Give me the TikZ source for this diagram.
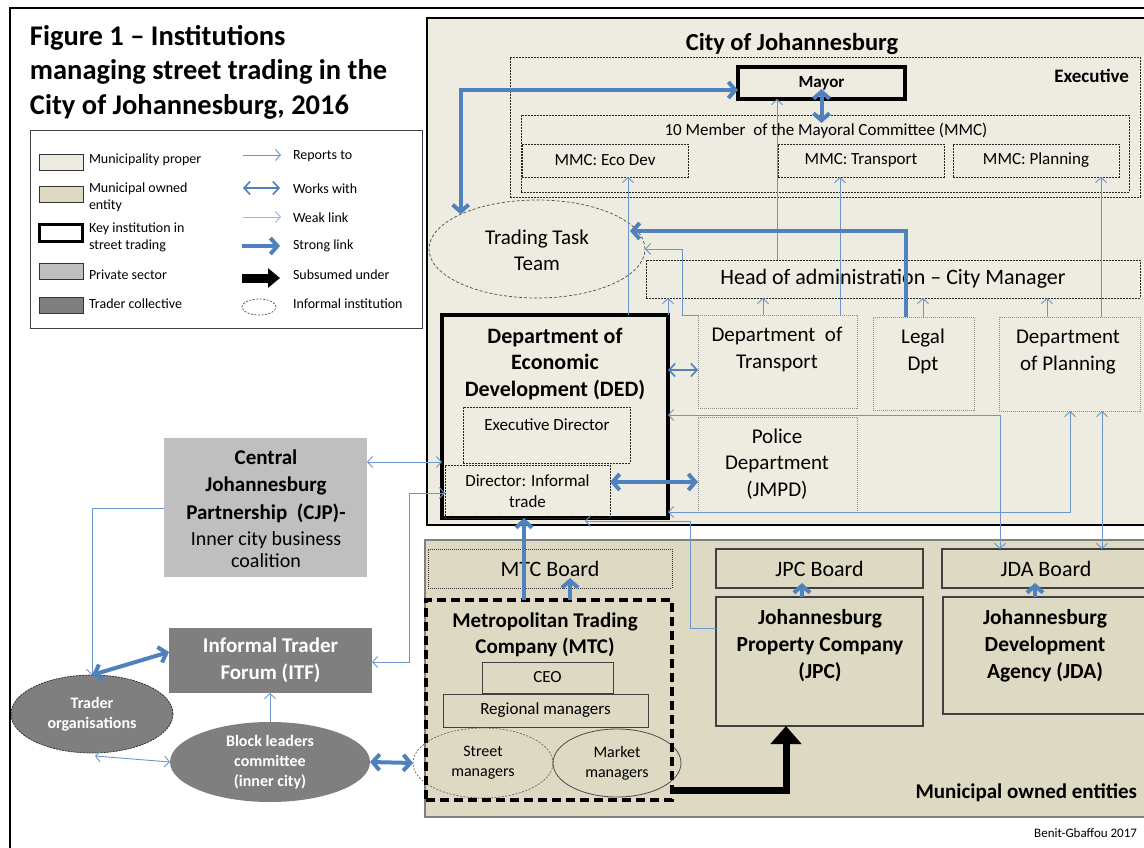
\documentclass[tikz,border=0pt]{standalone}
\usepackage{fontspec}
\setmainfont{Carlito}
\usetikzlibrary{arrows.meta,shapes.geometric,calc}
\definecolor{cityfill}{HTML}{EEECE1}
\definecolor{moefill}{HTML}{DDD9C3}
\definecolor{privfill}{HTML}{BFBFBF}
\definecolor{tradfill}{HTML}{7F7F7F}
\definecolor{lblue}{HTML}{4F81BD}
\definecolor{tblue}{HTML}{6C95CB}
\newcommand\myfs[2]{\fontsize{#1}{#2}\selectfont}
\begin{document}
\begin{tikzpicture}[x=1pt,y=-1pt,
  every node/.style={inner sep=0pt, outer sep=0pt},
  sz/.style 2 args={minimum width=#1pt, minimum height=#2pt},
  citybox/.style={draw=black, line width=1.3pt, fill=cityfill},
  dashbox/.style={draw=black!85, line width=0.6pt, dash pattern=on 2pt off 1pt},
  deptbox/.style={draw=black!45, line width=0.9pt, dash pattern=on 1pt off 1pt, fill=cityfill},
  keybox/.style={draw=black, line width=3.8pt, fill=cityfill},
  solidbox/.style={draw=black!75, line width=1.1pt, fill=moefill},
  dotbox/.style={draw=black!80, line width=0.6pt, dash pattern=on 1pt off 1pt, fill=moefill},
  thinarr/.style={draw=tblue, line width=0.9pt, -{Straight Barb[length=5pt,width=11pt]}},
  thinboth/.style={draw=tblue, line width=0.9pt, {Straight Barb[length=5pt,width=11pt]}-{Straight Barb[length=5pt,width=11pt]}},
  works/.style={draw=lblue, line width=1.6pt, {Straight Barb[length=6pt,width=13pt]}-{Straight Barb[length=6pt,width=13pt]}},
  strong/.style={draw=lblue, line width=4pt, -{Straight Barb[length=7pt,width=16pt]}},
  strongboth/.style={draw=lblue, line width=4pt, {Straight Barb[length=7pt,width=16pt]}-{Straight Barb[length=7pt,width=16pt]}},
  subsumed/.style={draw=black, line width=7pt, -{Triangle[length=18pt,width=30pt]}},
  ltext/.style={anchor=west, align=left, font=\myfs{14}{17}},
  wtext/.style={text=white, font=\bfseries\myfs{16}{20}, align=center}
]
\useasboundingbox (0,0) rectangle (1144,848);
\fill[white] (0,0) rectangle (1144,848);
% frame
\draw[line width=2pt] (10,848) -- (10,8) -- (1144,8);

% title
\node[anchor=west, align=left, font=\bfseries\myfs{28.5}{34.5}] (title) at (30,72) {Figure 1 – Institutions\\managing street trading in the\\City of Johannesburg, 2016};

% legend
\node[draw=black!75, line width=0.9pt, sz={392}{198}] (legend) at (226,229) {};
\node[draw=black!80, line width=0.8pt, fill=cityfill, sz={44}{16}] (sw1) at (61,162) {};
\node[draw=black!80, line width=0.8pt, fill=moefill, sz={44}{16}] (sw2) at (61,194) {};
\node[draw=black, line width=3.5pt, fill=white, sz={43}{17}] (sw3) at (61,233) {};
\node[draw=black!80, line width=0.8pt, fill=privfill, sz={44}{16}] (sw4) at (61,271) {};
\node[draw=black!80, line width=0.8pt, fill=tradfill, sz={44}{16}] (sw5) at (61,305) {};
\node[ltext] (lt1) at (89,160) {Municipality proper};
\node[ltext] (lt2) at (89,197) {Municipal owned\\entity};
\node[ltext] (lt3) at (89,237) {Key institution in\\street trading};
\node[ltext] (lt4) at (89,275) {Private sector};
\node[ltext] (lt5) at (89,304) {Trader collective};
\node[ltext] (lr1t) at (293,156) {Reports to};
\node[ltext] (lr2t) at (293,189) {Works with};
\node[ltext] (lr3t) at (293,218) {Weak link};
\node[ltext] (lr4t) at (293,246) {Strong link};
\node[ltext] (lr5t) at (293,275) {Subsumed under};
\node[ltext] (lr6t) at (293,304) {Informal institution};
\coordinate (la1) at (243,155); \coordinate (lb1) at (281,155);
\coordinate (la2) at (243,188); \coordinate (lb2) at (280,188);
\coordinate (la3) at (243,217); \coordinate (lb3) at (281,217);
\coordinate (la4) at (242,246); \coordinate (lb4) at (280,246);
\coordinate (la5) at (242,278); \coordinate (lb5) at (280,278);
\draw[thinarr] (la1) -- (lb1);
\draw[works] (la2) -- (lb2);
\draw[thinarr, draw=tblue!70] (la3) -- (lb3);
\draw[strong] (la4) -- (lb4);
\draw[draw=black, line width=9pt, -{Triangle[length=12pt,width=19pt]}] (la5) -- (lb5);
\node[ellipse, draw=black!70, line width=0.7pt, dash pattern=on 2pt off 1.5pt, sz={34}{16}] (lgell) at (259,307) {};

% city of Johannesburg
\node[citybox, anchor=north west, sz={723}{507}] (city) at (427,18) {};
\node[font=\bfseries\myfs{24.5}{28}] (citytitle) at (792,44) {City of Johannesburg};
\node[dashbox, anchor=north west, sz={630}{140}] (exec) at (510,57) {};
\node[anchor=east, font=\bfseries\myfs{19}{22}] (exectext) at (1129,76) {Executive};
\node[keybox, line width=3.5pt, sz={167}{32}, font=\bfseries\myfs{17}{20}] (mayor) at (821.5,83) {Mayor};
\node[dashbox, sz={608}{77}] (mmc10) at (825,153.5) {};
\node[font=\myfs{17}{20}] (mmc10text) at (826,131) {10 Member\ \ of the Mayoral Committee (MMC)};
\node[dashbox, sz={166}{33}, font=\myfs{17}{20}] (mmceco) at (605,160.5) {MMC: Eco Dev};
\node[dashbox, sz={166}{33}, font=\myfs{17}{20}] (mmctr) at (861,160.5) {MMC: Transport};
\node[dashbox, sz={166}{33}, font=\myfs{17}{20}] (mmcpl) at (1036,160.5) {MMC: Planning};

\node[ellipse, draw=black!70, line width=0.7pt, dash pattern=on 3pt off 2pt, sz={216}{98}] (ttt) at (537,249) {};
\node[font=\myfs{21}{26}, align=center] (ttttext) at (537,250) {Trading Task\\Team};
\node[dashbox, sz={494}{38}, font=\myfs{22}{26}] (head) at (893,279) {Head of administration – City Manager};

\node[keybox, sz={226}{203}] (ded) at (555,416.5) {};
\node[font=\bfseries\myfs{22}{26.5}, align=center] (dedtext) at (555,364) {Department of\\Economic\\Development (DED)};
\node[dashbox, sz={167}{56}] (execdir) at (546.5,435) {};
\node[font=\myfs{17}{20}] (execdirtext) at (547,425) {Executive Director};
\node[dashbox, sz={165}{53}, font=\myfs{17}{21}, align=center] (dirinf) at (527.5,491.5) {Director: Informal\\trade};

\node[deptbox, sz={159}{93}] (transport) at (777.5,361.5) {};
\node[font=\myfs{21}{27}, align=center] (transporttext) at (777,349) {Department\ \ of\\Transport};
\node[deptbox, sz={101}{93}] (legal) at (923.5,363.5) {};
\node[font=\myfs{21}{27}, align=center] (legaltext) at (923,351) {Legal\\Dpt};
\node[deptbox, sz={141}{94}] (planning) at (1069.5,364) {};
\node[font=\myfs{21}{27}, align=center] (planningtext) at (1068,352) {Department\\of Planning};
\node[deptbox, sz={159}{95}] (police) at (777.5,464.5) {};
\node[font=\myfs{21}{26.5}, align=center] (policetext) at (777,464) {Police\\Department\\(JMPD)};

% left side
\node[fill=privfill, sz={203}{139}] (cjp) at (265.5,507.5) {};
\node[font=\bfseries\myfs{21}{27.5}, align=center] (cjptext) at (266,486) {Central\\Johannesburg\\Partnership\ \ (CJP)-};
\node[font=\myfs{20}{22}, align=center] (cjptext2) at (266,550) {Inner city business\\coalition};
\node[fill=tradfill, sz={203}{65}, text=white, font=\bfseries\myfs{21}{27}, align=center] (itf) at (270.5,660.5) {Informal Trader\\Forum (ITF)};
\node[ellipse, fill=tradfill, draw=black!85, line width=0.7pt, dash pattern=on 2pt off 1pt, sz={162}{78}, wtext] (traderorg) at (92,714) {Trader\\organisations};
\node[ellipse, fill=tradfill, sz={200}{80}, wtext] (block) at (270,762) {Block leaders\\committee\\(inner city)};

% municipal owned entities
\node[draw=black!50, line width=2pt, fill=moefill, anchor=north west, sz={725}{277}] (moe) at (425,540) {};
\node[anchor=east, font=\bfseries\myfs{21}{25}] (moetext) at (1137,793) {Municipal owned entities};
\node[dotbox, sz={244}{39}, font=\myfs{22}{26}] (mtcboard) at (550,568.5) {MTC Board};
\node[solidbox, line width=0.9pt, sz={131}{31}, font=\myfs{17}{20}] (ceo) at (547.5,677.5) {CEO};
\node[solidbox, line width=0.9pt, sz={205}{33}, font=\myfs{17}{20}] (regional) at (545.5,710.5) {Regional managers};
\node[ellipse, draw=black!60, line width=0.7pt, dash pattern=on 2pt off 1.5pt, sz={140}{70}, font=\myfs{16}{20}, align=center] (street) at (483,763) {Street\\managers};
\node[ellipse, draw=black!70, line width=0.8pt, sz={128}{68}, font=\myfs{16}{20}, align=center] (market) at (617,763) {Market\\managers};
\node[draw=black, line width=3.5pt, dash pattern=on 9pt off 5pt, sz={246}{200}] (mtc) at (549,700) {};
\node[font=\bfseries\myfs{21}{26}, align=center] (mtctext) at (545,635) {Metropolitan Trading\\Company (MTC)};
\node[solidbox, sz={207}{39}, font=\myfs{22}{26}] (jpcboard) at (819.5,568.5) {JPC Board};
\node[solidbox, sz={207}{129}] (jpc) at (819.5,661.5) {};
\node[font=\bfseries\myfs{21.5}{27}, align=center] (jpctext) at (820,646) {Johannesburg\\Property Company\\(JPC)};
\node[solidbox, sz={208}{39}, font=\myfs{22}{26}] (jdaboard) at (1046,568.5) {JDA Board};
\node[solidbox, sz={207}{117}] (jda) at (1046.5,655.5) {};
\node[font=\bfseries\myfs{21.5}{27}, align=center] (jdatext) at (1045,646) {Johannesburg\\Development\\Agency (JDA)};
\node[anchor=east, font=\myfs{13}{15}] (credit) at (1137,833) {Benit-Gbaffou 2017};

% connectors
\draw[strongboth] (ttt.north west) |- ([yshift=-7pt]mayor.west);
\draw[strongboth] (mayor.center |- 0,89) -- (mayor.center |- 0,123);
\draw[thinarr] (777,0 |- head.north) -- (777,0 |- mayor.south);
\draw[thinarr] (628,0 |- ded.north) -- (628,0 |- mmceco.south);
\draw[thinarr] (840,0 |- transport.north) -- (840,0 |- mmctr.south);
\draw[thinarr] (1101,0 |- planning.north) -- (1101,0 |- mmcpl.south);
\draw[thinarr] (ded.north east) -- (ded.north east |- head.south);
\draw[thinarr] (763,0 |- transport.north) -- (763,0 |- head.south);
\draw[thinarr] (923,0 |- legal.north) -- (923,0 |- head.south);
\draw[thinarr] (1047,0 |- planning.north) -- (1047,0 |- head.south);
\draw[strong] (906,0 |- legal.north) |- ([xshift=-15pt,yshift=18pt]ttt.east);
\draw[thinarr] (transport.north west) -| (682,0 |- ttt.east) -- (ttt.east);
\draw[works] (ded.east |- 0,370) -- (transport.west |- 0,370);
\draw[strongboth] (dirinf.east |- 0,482) -- (police.west |- 0,482);
\draw[thinboth] (ded.east |- 0,415) -| (1000,0 |- jdaboard.north);
\draw[thinboth] (ded.east |- 0,512) -| (1070,0 |- planning.south);
\draw[thinboth] (1102,0 |- planning.south) -- (1102,0 |- jdaboard.north);
\coordinate (jpcend) at (585,521);
\draw[thinarr] (jpc.west |- 0,628) -| (690,0 |- jpcend) -- (jpcend);
\draw[thinboth] (cjp.east |- 0,462) -- (ded.west |- 0,462);
\draw[thinboth] (itf.east |- 0,662) -| (409,493) -- (dirinf.west |- 0,493);
\draw[thinarr] (cjp.west |- 0,508) -| (traderorg.north);
\draw[strongboth] (traderorg.north) -- (itf.west |- 0,652);
\draw[thinboth] ([xshift=3pt,yshift=-3pt]traderorg.south) -- (block.west);
\draw[thinarr] (block.north) -- (block.north |- itf.south);
\draw[strongboth] (block.east) -- (street.west);
\draw[strong] (524,0 |- mtc.north) -- (524,0 |- dirinf.south);
\draw[strong] (570,0 |- mtc.north) -- ($(570,0 |- mtcboard.south)+(0,-10)$);
\draw[strong] (802,0 |- jpc.north) -- ($(802,0 |- jpcboard.south)+(0,-5)$);
\draw[strong] (1035,0 |- jda.north) -- ($(1035,0 |- jdaboard.south)+(0,-5)$);
\draw[subsumed] (mtc.east |- 0,790) -| (786,0 |- jpc.south);
\end{tikzpicture}
\end{document}
